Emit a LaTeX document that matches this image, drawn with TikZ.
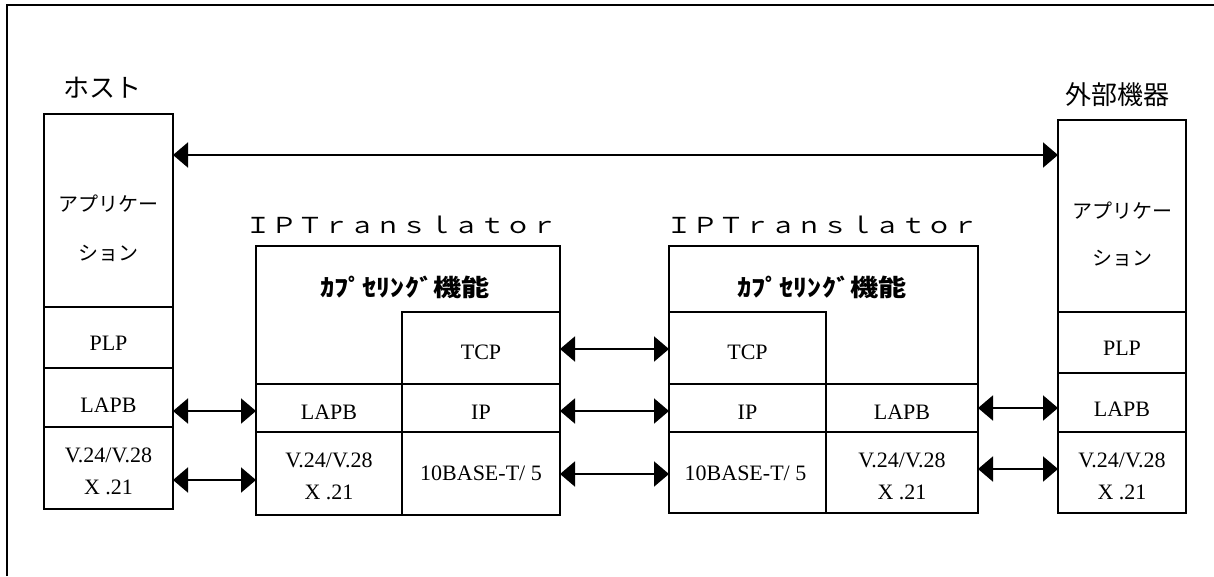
\documentclass[tikz,border=0pt]{standalone}
\usepackage{fontspec}
\setmainfont{Liberation Serif}
\newfontfamily\jp{Noto Sans CJK JP}
\usetikzlibrary{arrows.meta}
\tikzset{
  cell/.style={draw, line width=2pt, inner sep=0pt, outer sep=0pt, anchor=north west},
  lat/.style={anchor=base, inner sep=0pt, font=\fontsize{22}{26}\selectfont},
  jpt/.style={anchor=base, inner sep=0pt, font=\jp\fontsize{20}{24}\selectfont},
  ttl/.style={anchor=base, inner sep=0pt, font=\jp\fontsize{26}{30}\selectfont},
  captext/.style={anchor=base, inner sep=0pt, font=\jp\bfseries\fontsize{22}{26}\selectfont},
  iptr/.style={anchor=base, inner sep=0pt, font=\jp\fontsize{22}{26}\selectfont},
  arr/.style={line width=2pt, {Triangle[length=15pt,width=25pt]}-{Triangle[length=15pt,width=25pt]}},
}
\begin{document}
\begin{tikzpicture}[x=1pt,y=-1pt]
\useasboundingbox (0,0) rectangle (1214,576);
\draw[line width=1.5pt] (7,576) -- (7,5) -- (1214,5);

% Host column
\node[ttl] (thost) at (102,97) {ホスト};
\node[cell, minimum width=129pt, minimum height=193pt] (happ) at (44,114) {};
\node[cell, minimum width=129pt, minimum height=61pt] (hplp) at (44,307) {};
\node[cell, minimum width=129pt, minimum height=59pt] (hlapb) at (44,368) {};
\node[cell, minimum width=129pt, minimum height=82pt] (hv) at (44,427) {};
\node[jpt] (happ1) at (108.5,211) {アプリケー};
\node[jpt] (happ2) at (108.5,260) {ション};
\node[lat] (hplpt) at (108.5,350) {PLP};
\node[lat] (hlapbt) at (108.5,412) {LAPB};
\node[lat] (hv1) at (108.5,462) {V.24/V.28};
\node[lat] (hv2) at (108.5,494) {X .21};

% Translator 1
\node[iptr] (t1name) at (401.5,233) {\scalebox{1.18}[1]{ＩＰＴｒａｎｓｌａｔｏｒ}};
\node[cell, minimum width=304pt, minimum height=269pt] (t1) at (256,246) {};
\node[cell, minimum width=158pt, minimum height=72pt] (t1tcp) at (402,312) {};
\node[cell, minimum width=146pt, minimum height=48pt] (t1lapb) at (256,384) {};
\node[cell, minimum width=158pt, minimum height=48pt] (t1ip) at (402,384) {};
\node[cell, minimum width=146pt, minimum height=83pt] (t1v) at (256,432) {};
\node[cell, minimum width=158pt, minimum height=83pt] (t1eth) at (402,432) {};
\node[captext] (t1cap) at (405,296) {\scalebox{1.28}[1.08]{ｶﾌﾟｾﾘﾝｸﾞ機能}};
\node[lat] (t1tcpt) at (481,359) {TCP};
\node[lat] (t1lapbt) at (329,419) {LAPB};
\node[lat] (t1ipt) at (481,419) {IP};
\node[lat] (t1v1) at (329,467) {V.24/V.28};
\node[lat] (t1v2) at (329,499) {X .21};
\node[lat] (t1etht) at (481,480) {10BASE-T/ 5};

% Translator 2
\node[iptr] (t2name) at (822.5,233) {\scalebox{1.18}[1]{ＩＰＴｒａｎｓｌａｔｏｒ}};
\node[cell, minimum width=309pt, minimum height=267pt] (t2) at (669,246) {};
\node[cell, minimum width=157pt, minimum height=72pt] (t2tcp) at (669,312) {};
\node[cell, minimum width=157pt, minimum height=48pt] (t2ip) at (669,384) {};
\node[cell, minimum width=152pt, minimum height=48pt] (t2lapb) at (826,384) {};
\node[cell, minimum width=157pt, minimum height=81pt] (t2eth) at (669,432) {};
\node[cell, minimum width=152pt, minimum height=81pt] (t2v) at (826,432) {};
\node[captext] (t2cap) at (822,296) {\scalebox{1.28}[1.08]{ｶﾌﾟｾﾘﾝｸﾞ機能}};
\node[lat] (t2tcpt) at (747.5,359) {TCP};
\node[lat] (t2ipt) at (747.5,419) {IP};
\node[lat] (t2lapbt) at (902,419) {LAPB};
\node[lat] (t2etht) at (745.5,480) {10BASE-T/ 5};
\node[lat] (t2v1) at (902,467) {V.24/V.28};
\node[lat] (t2v2) at (902,499) {X .21};

% External device column
\node[ttl] (text) at (1117,104) {外部機器};
\node[cell, minimum width=128pt, minimum height=192pt] (eapp) at (1058,120) {};
\node[cell, minimum width=128pt, minimum height=61pt] (eplp) at (1058,312) {};
\node[cell, minimum width=128pt, minimum height=59pt] (elapb) at (1058,373) {};
\node[cell, minimum width=128pt, minimum height=81pt] (ev) at (1058,432) {};
\node[jpt] (eapp1) at (1122,218) {アプリケー};
\node[jpt] (eapp2) at (1122,265) {ション};
\node[lat] (eplpt) at (1122,355) {PLP};
\node[lat] (elapbt) at (1122,416) {LAPB};
\node[lat] (ev1) at (1122,467) {V.24/V.28};
\node[lat] (ev2) at (1122,499) {X .21};

% Connectors
\draw[arr] (happ.east |- 0,155) -- (eapp.west |- 0,155);
\draw[arr] (hlapb.east |- 0,411) -- (t1lapb.west |- 0,411);
\draw[arr] (hv.east |- 0,480) -- (t1v.west |- 0,480);
\draw[arr] (t1tcp.east |- 0,349) -- (t2tcp.west |- 0,349);
\draw[arr] (t1ip.east |- 0,411) -- (t2ip.west |- 0,411);
\draw[arr] (t1eth.east |- 0,474) -- (t2eth.west |- 0,474);
\draw[arr] (t2lapb.east |- 0,408) -- (elapb.west |- 0,408);
\draw[arr] (t2v.east |- 0,469) -- (ev.west |- 0,469);
\end{tikzpicture}
\end{document}
